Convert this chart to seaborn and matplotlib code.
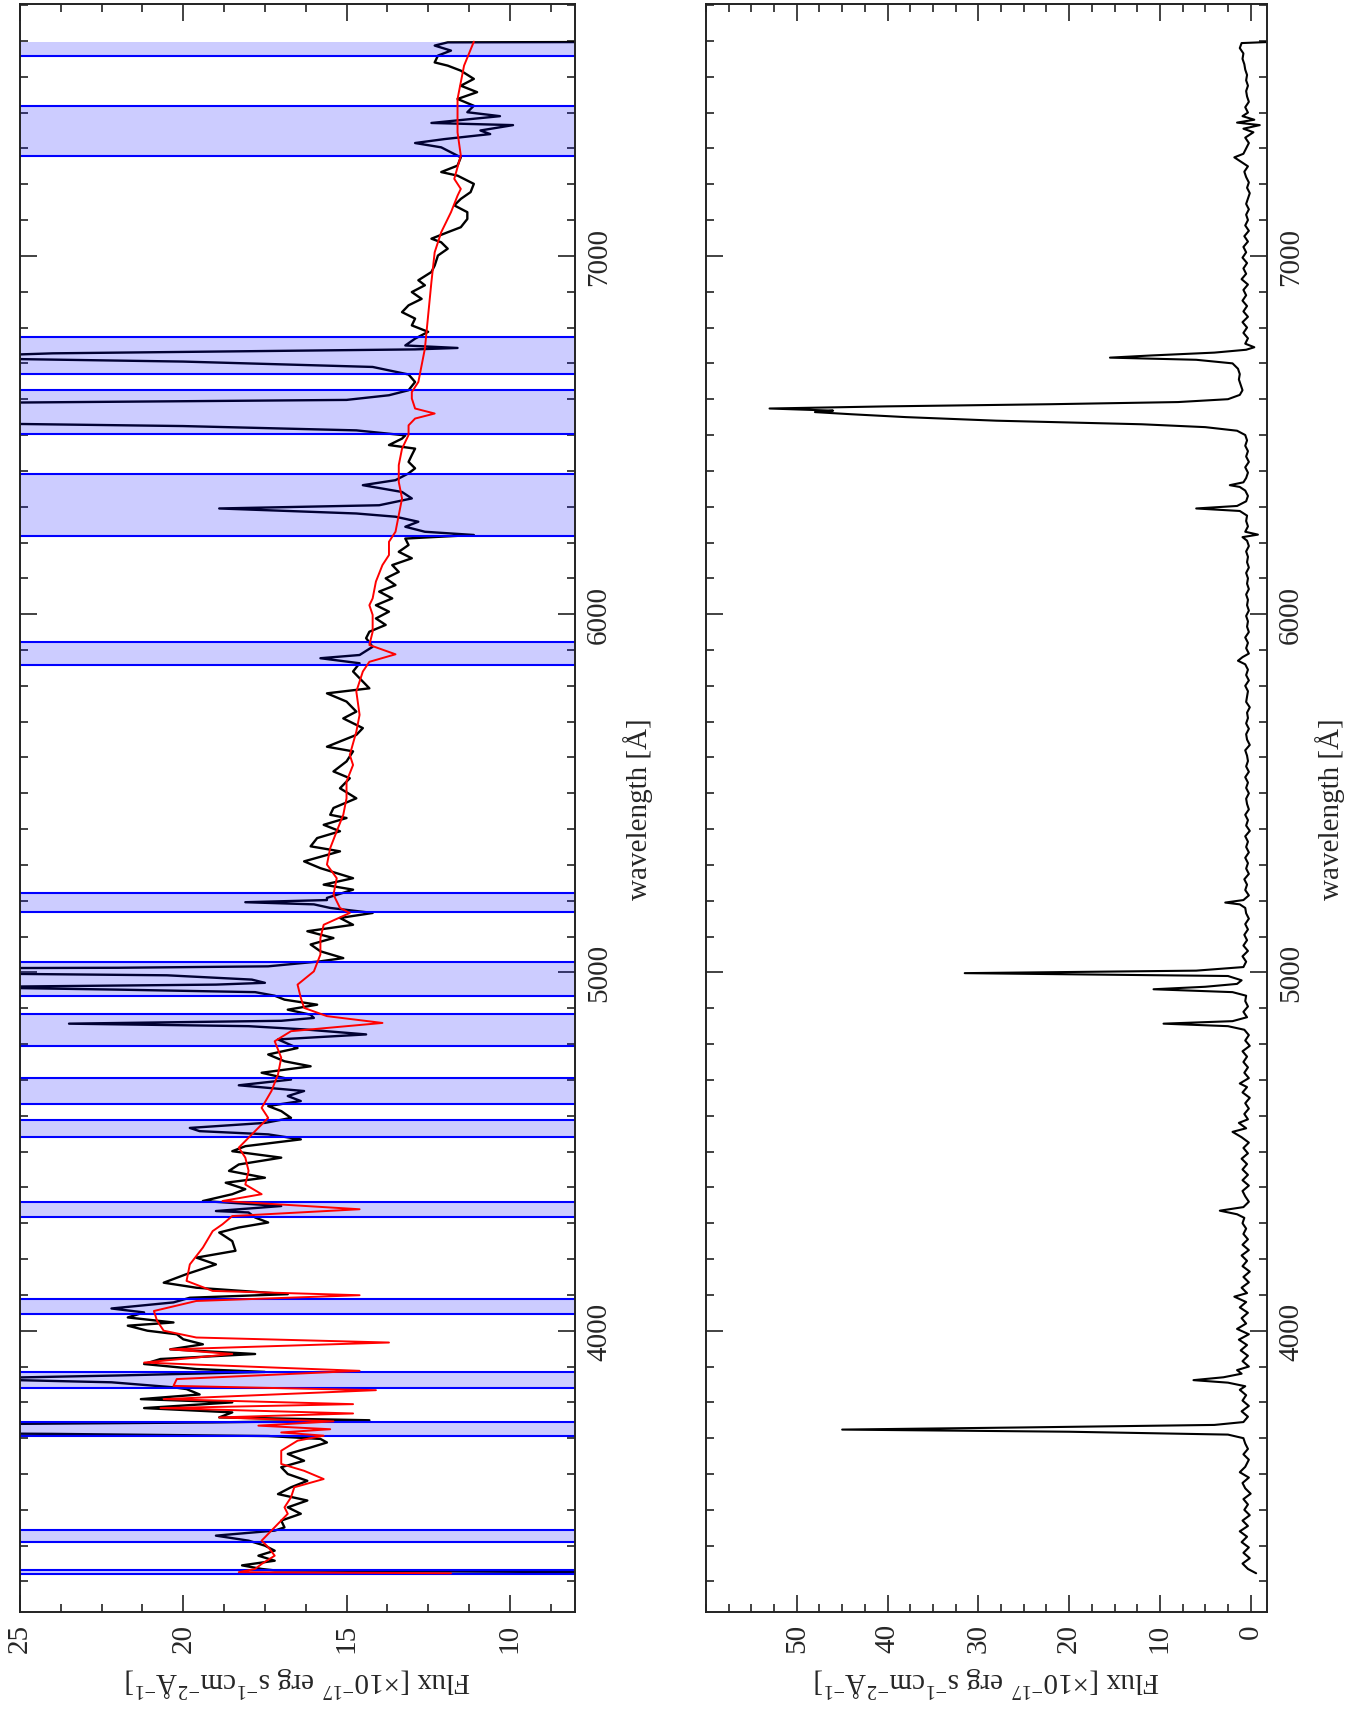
import pandas as pd
import matplotlib
matplotlib.use("Agg")
import matplotlib.pyplot as plt
import seaborn as sns
from matplotlib.ticker import MultipleLocator, FixedLocator

# observed spectrum (wavelength [A], flux)
obs_wl = [3323, 3331, 3335, 3345, 3358, 3372, 3386, 3400, 3414, 3428, 3442, 3451, 3470, 3489, 3507,
          3526, 3544, 3563, 3581, 3600, 3619, 3637, 3656, 3674, 3688, 3698, 3706, 3712, 3718, 3727,
          3735, 3740, 3744, 3750, 3758, 3772, 3784, 3800, 3809, 3822, 3837, 3842, 3856, 3866, 3875,
          3885, 3893, 3907, 3921, 3935, 3948, 3962, 3976, 3990, 4000, 4014, 4023, 4037, 4051, 4062,
          4079, 4092, 4102, 4120, 4134, 4158, 4185, 4204, 4223, 4250, 4274, 4288, 4302, 4316, 4330,
          4334, 4348, 4362, 4381, 4395, 4413, 4427, 4446, 4464, 4483, 4501, 4515, 4534, 4548, 4557,
          4566, 4580, 4594, 4613, 4627, 4641, 4655, 4669, 4685, 4701, 4720, 4738, 4752, 4771, 4789,
          4813, 4827, 4841, 4850, 4857, 4865, 4873, 4882, 4896, 4910, 4924, 4935, 4945, 4952, 4959,
          4966, 4971, 4980, 4992, 5000, 5007, 5013, 5017, 5031, 5040, 5059, 5078, 5096, 5115, 5133,
          5152, 5166, 5180, 5190, 5196, 5202, 5208, 5231, 5245, 5263, 5291, 5310, 5338, 5352, 5375,
          5394, 5412, 5431, 5440, 5459, 5486, 5514, 5542, 5561, 5589, 5617, 5630, 5663, 5682, 5709,
          5728, 5756, 5779, 5793, 5821, 5840, 5863, 5877, 5886, 5909, 5933, 5951, 5970, 5988, 6007,
          6025, 6044, 6063, 6081, 6100, 6118, 6137, 6156, 6174, 6193, 6211, 6221, 6230, 6244, 6258,
          6272, 6281, 6295, 6304, 6323, 6341, 6360, 6374, 6393, 6407, 6425, 6444, 6462, 6472, 6490,
          6499, 6513, 6525, 6532, 6545, 6555, 6565, 6575, 6582, 6590, 6598, 6611, 6625, 6648, 6669,
          6690, 6705, 6716, 6728, 6739, 6743, 6750, 6769, 6788, 6806, 6825, 6843, 6862, 6880, 6899,
          6918, 6932, 6955, 6973, 7001, 7020, 7038, 7048, 7066, 7080, 7103, 7122, 7141, 7159, 7178,
          7201, 7224, 7234, 7252, 7275, 7289, 7303, 7315, 7326, 7340, 7350, 7365, 7371, 7390, 7401,
          7419, 7438, 7457, 7475, 7494, 7517, 7531, 7540, 7559, 7573, 7587, 7596, 7598]
obs_flux = [2.0, 17.2, 17.6, 18.2, 17.2, 17.7, 17.2, 17.5, 18.0, 19.0, 17.2, 16.9, 17.0, 16.4, 16.8,
            16.2, 17.1, 16.7, 16.2, 16.8, 17.0, 16.3, 16.8, 16.1, 15.6, 15.8, 17.4, 24.0, 35.0, 60.0,
            42.0, 25.0, 19.1, 14.3, 18.9, 18.5, 21.2, 18.5, 21.3, 19.5, 19.9, 20.3, 22.2, 27.0, 22.0,
            17.5, 19.6, 21.2, 20.7, 17.8, 20.4, 19.4, 20.0, 20.2, 21.1, 21.7, 20.3, 21.7, 21.2, 22.2,
            20.3, 19.8, 16.8, 19.6, 20.6, 19.9, 19.0, 19.6, 18.4, 18.5, 18.9, 18.3, 17.4, 17.8, 18.0,
            19.0, 17.0, 19.4, 18.5, 18.1, 18.7, 17.5, 18.6, 18.3, 17.0, 18.5, 18.1, 16.4, 17.4, 19.5,
            19.8, 17.5, 16.7, 17.0, 17.4, 16.4, 16.8, 16.3, 18.3, 16.7, 17.6, 16.1, 16.9, 17.4, 16.5,
            17.1, 14.4, 16.3, 18.0, 23.5, 17.0, 16.0, 16.1, 16.8, 15.9, 16.9, 17.2, 17.8, 22.0, 27.0,
            19.0, 17.5, 17.9, 20.5, 30.0, 47.0, 22.0, 17.4, 15.8, 15.1, 15.8, 16.1, 15.4, 16.2, 14.8,
            15.2, 14.2, 15.5, 16.0, 18.1, 15.6, 15.6, 14.8, 15.7, 14.8, 15.8, 16.3, 15.2, 16.1, 15.9,
            15.2, 15.7, 15.0, 15.5, 15.4, 14.7, 15.2, 14.9, 15.4, 15.0, 14.8, 15.6, 14.7, 14.5, 15.1,
            14.7, 15.0, 15.6, 14.3, 14.6, 14.8, 14.6, 15.8, 14.6, 14.2, 14.4, 14.3, 13.8, 14.1, 13.7,
            14.1, 13.6, 14.0, 13.5, 13.8, 13.4, 13.6, 13.0, 13.4, 13.1, 13.2, 11.1, 12.6, 13.2, 12.8,
            13.5, 14.7, 18.9, 14.0, 13.0, 13.3, 14.5, 13.5, 13.1, 12.9, 13.1, 13.0, 12.9, 13.7, 13.3,
            13.2, 14.7, 20.0, 26.0, 45.0, 52.0, 62.0, 64.0, 45.0, 26.0, 15.0, 13.7, 13.1, 12.9, 13.1,
            14.2, 20.0, 28.0, 24.0, 12.9, 11.6, 13.2, 12.9, 12.5, 13.0, 12.9, 13.3, 13.1, 12.7, 13.0,
            12.6, 12.8, 12.4, 12.3, 12.2, 11.9, 12.1, 12.4, 11.9, 11.5, 11.3, 11.3, 11.7, 11.5, 11.2,
            11.1, 11.6, 12.1, 11.6, 11.5, 11.8, 12.1, 12.9, 12.0, 10.6, 10.9, 9.9, 12.4, 10.3, 11.3,
            11.1, 11.6, 11.0, 11.5, 11.1, 11.5, 11.9, 12.3, 12.2, 11.8, 12.3, 11.9, 2.0]

# stellar population model
mod_wl = [3323, 3326, 3335, 3349, 3372, 3396, 3414, 3442, 3470, 3489, 3507, 3535, 3563, 3586, 3609,
          3628, 3665, 3693, 3707, 3716, 3725, 3735, 3747, 3758, 3769, 3784, 3795, 3809, 3834, 3846,
          3865, 3888, 3911, 3935, 3948, 3967, 3981, 4000, 4027, 4055, 4083, 4099, 4111, 4139, 4185,
          4232, 4278, 4297, 4320, 4339, 4362, 4381, 4408, 4446, 4483, 4511, 4557, 4594, 4622, 4669,
          4715, 4762, 4808, 4836, 4859, 4878, 4901, 4929, 4966, 5003, 5050, 5096, 5133, 5166, 5180,
          5217, 5263, 5301, 5347, 5394, 5440, 5486, 5533, 5579, 5607, 5672, 5719, 5784, 5840, 5867,
          5888, 5914, 5951, 5998, 6025, 6044, 6091, 6137, 6165, 6202, 6230, 6276, 6323, 6369, 6416,
          6462, 6500, 6527, 6546, 6560, 6574, 6602, 6620, 6648, 6741, 6834, 6927, 7010, 7066, 7122,
          7168, 7187, 7215, 7280, 7345, 7438, 7531, 7598]
mod_flux = [11.8, 18.3, 17.8, 17.6, 17.2, 17.4, 17.6, 17.3, 17.0, 16.8, 16.9, 16.7, 16.6, 15.7, 16.3,
            17.0, 17.0, 16.5, 15.7, 17.0, 15.5, 17.7, 15.4, 18.9, 14.8, 20.7, 14.8, 20.6, 14.1, 20.3,
            20.2, 14.6, 21.2, 18.5, 20.4, 13.7, 19.6, 20.6, 20.8, 20.9, 19.6, 14.6, 19.1, 19.9, 19.8,
            19.4, 19.1, 18.8, 18.5, 14.6, 18.8, 17.6, 18.1, 18.0, 18.1, 18.3, 17.8, 17.4, 17.6, 17.3,
            17.1, 17.0, 17.2, 16.7, 13.9, 15.6, 16.3, 16.4, 16.5, 16.0, 15.8, 15.8, 15.7, 14.9, 15.2,
            15.4, 15.3, 15.6, 15.5, 15.3, 15.1, 15.0, 15.0, 14.8, 14.9, 14.7, 14.6, 14.7, 14.5, 14.3,
            13.5, 14.3, 14.2, 14.2, 14.3, 14.2, 14.1, 13.9, 13.7, 13.7, 13.5, 13.4, 13.3, 13.4, 13.4,
            13.3, 13.1, 13.1, 12.9, 12.3, 12.9, 13.0, 13.0, 12.8, 12.6, 12.5, 12.4, 12.3, 12.1, 11.8,
            11.6, 11.5, 11.7, 11.5, 11.6, 11.6, 11.4, 11.1]

# masked regions
band_lo = [3322, 3409, 3706, 3839, 4047, 4317, 4540, 4632, 4794, 4933, 5169, 5858, 6217, 6502, 6670, 7279, 7557]
band_hi = [3331, 3444, 3746, 3886, 4088, 4360, 4587, 4706, 4884, 5029, 5222, 5923, 6390, 6627, 6774, 7417, 7598]

# residual (pure emission) spectrum
res_wl = [3323, 3335, 3350, 3365, 3380, 3395, 3410, 3425, 3440, 3455, 3470, 3485, 3500, 3515, 3530,
          3545, 3560, 3575, 3590, 3605, 3620, 3640, 3655, 3670, 3685, 3700, 3710, 3718, 3724, 3730,
          3737, 3745, 3760, 3775, 3790, 3805, 3820, 3835, 3845, 3855, 3862, 3870, 3880, 3890, 3900,
          3915, 3930, 3945, 3960, 3975, 3990, 4005, 4020, 4035, 4050, 4065, 4080, 4095, 4105, 4120,
          4135, 4150, 4165, 4180, 4195, 4210, 4225, 4240, 4255, 4270, 4285, 4300, 4315, 4325, 4335,
          4345, 4360, 4375, 4390, 4405, 4420, 4435, 4450, 4465, 4480, 4495, 4510, 4525, 4540, 4555,
          4565, 4580, 4590, 4605, 4620, 4635, 4650, 4665, 4680, 4690, 4705, 4720, 4735, 4750, 4765,
          4780, 4795, 4810, 4825, 4840, 4850, 4857, 4864, 4875, 4890, 4905, 4920, 4935, 4945, 4953,
          4960, 4968, 4978, 4990, 4998, 5005, 5015, 5030, 5045, 5060, 5075, 5090, 5105, 5120, 5135,
          5150, 5165, 5180, 5190, 5195, 5202, 5215, 5230, 5245, 5260, 5275, 5290, 5305, 5320, 5335,
          5350, 5365, 5380, 5395, 5410, 5425, 5440, 5455, 5470, 5485, 5500, 5515, 5530, 5545, 5560,
          5575, 5590, 5605, 5620, 5635, 5650, 5665, 5680, 5695, 5710, 5725, 5740, 5755, 5770, 5785,
          5800, 5815, 5830, 5845, 5860, 5870, 5880, 5890, 5905, 5920, 5935, 5950, 5965, 5980, 5995,
          6010, 6025, 6040, 6055, 6070, 6085, 6100, 6115, 6130, 6145, 6160, 6175, 6190, 6205, 6215,
          6222, 6230, 6245, 6260, 6275, 6288, 6295, 6302, 6315, 6330, 6345, 6355, 6360, 6368, 6380,
          6395, 6410, 6425, 6440, 6455, 6470, 6485, 6500, 6512, 6522, 6530, 6540, 6550, 6558, 6564,
          6568, 6574, 6580, 6586, 6592, 6600, 6612, 6625, 6640, 6655, 6670, 6685, 6700, 6710, 6716,
          6722, 6730, 6738, 6745, 6755, 6770, 6785, 6800, 6815, 6830, 6845, 6860, 6875, 6890, 6905,
          6920, 6935, 6950, 6965, 6980, 6995, 7010, 7025, 7040, 7055, 7070, 7085, 7100, 7115, 7130,
          7145, 7160, 7175, 7190, 7205, 7220, 7235, 7250, 7265, 7275, 7285, 7300, 7315, 7330, 7345,
          7355, 7365, 7372, 7380, 7390, 7400, 7415, 7430, 7445, 7460, 7475, 7490, 7505, 7520, 7535,
          7550, 7565, 7580, 7594, 7598]
res_flux = [-0.6, 0.3, 0.9, 0.1, 0.8, 0.2, 1.0, 0.4, 1.2, 0.3, 0.9, 0.1, 0.7, 0.3, 0.8,
            0.0, 0.6, 0.9, 0.2, 1.2, 0.6, 0.2, 0.8, 0.3, 0.6, 0.8, 2.5, 20.0, 45.0, 25.0,
            4.0, 0.8, 0.3, 1.0, 0.2, 0.9, 0.5, 1.2, 0.6, 2.5, 6.3, 3.0, 1.0, 1.5, 0.2,
            0.9, 0.3, 1.1, 0.4, 1.3, 0.2, 1.5, 0.5, 1.0, 0.3, 1.2, 0.5, 1.8, 0.4, 1.0,
            0.2, 0.8, 0.1, 0.9, 0.4, 1.0, 0.2, 0.9, 0.3, 0.8, 0.5, 0.9, 0.7, 1.5, 3.4,
            0.8, 0.2, 0.6, 0.9, 0.2, 0.9, 0.3, 0.9, 0.4, 1.0, 0.3, 0.8, 0.2, 1.0, 2.0,
            0.5, 1.3, 0.3, 0.7, 0.2, 0.6, 0.1, 0.9, 0.4, 1.2, 0.2, 0.7, 0.3, 0.8, 0.4,
            0.9, 0.1, 0.6, 0.2, 0.7, 2.5, 9.6, 2.0, 0.4, 0.8, 0.3, 0.6, 0.5, 2.0, 10.7,
            5.0, 1.5, 1.0, 2.5, 31.5, 6.0, 0.8, 0.5, 0.9, 0.3, 0.8, 0.4, 0.7, 0.3, 0.6,
            0.2, 0.5, 0.6, 1.2, 2.8, 0.8, 0.2, 0.6, 0.4, 0.7, 0.2, 0.5, 0.3, 0.6, 0.2,
            0.5, 0.3, 0.6, 0.1, 0.5, 0.3, 0.6, 0.2, 0.4, 0.5, 0.2, 0.5, 0.3, 0.6, 0.2,
            0.5, 0.3, 0.4, 0.6, 0.1, 0.4, 0.5, 0.2, 0.5, 0.3, 0.4, 0.1, 0.5, 0.4, 0.3,
            0.6, 0.2, 0.5, 0.3, 0.6, 1.4, 0.9, 0.2, 0.5, 0.3, 0.6, 0.2, 0.4, 0.3, 0.5,
            0.2, 0.4, 0.3, 0.5, 0.2, 0.4, 0.3, 0.5, 0.2, 0.4, 0.3, 0.5, 0.2, 0.4, 0.9,
            -0.8, 0.6, 0.3, 0.5, 0.4, 1.2, 6.0, 1.5, 0.5, 0.3, 0.6, 1.2, 2.3, 0.8, 0.5,
            0.3, 0.6, 0.2, 0.5, 0.3, 0.6, 0.4, 0.6, 1.5, 5.0, 12.0, 28.0, 38.0, 44.0, 48.0,
            46.0, 53.0, 40.0, 22.0, 8.0, 2.5, 1.2, 0.9, 1.1, 1.3, 1.2, 1.4, 2.0, 6.0, 15.5,
            11.0, 4.0, 0.5, -0.4, 0.6, 0.3, 0.8, 0.4, 0.9, 0.3, 0.8, 0.4, 0.9, 0.5, 0.8,
            0.3, 1.0, 0.5, 0.8, 0.4, 0.9, 0.5, 0.8, 0.3, 0.7, 0.2, 0.6, 0.3, 0.5, 0.2,
            0.5, 0.3, 0.1, 0.4, 0.2, 0.5, 0.7, 0.3, 1.2, 1.8, 0.8, 0.5, 0.2, 0.6, -0.3,
            0.8, -1.0, 1.5, -0.4, 0.9, 0.3, 0.6, 0.2, 0.4, 0.5, 0.3, 0.5, 0.4, 0.6, 0.7,
            0.9, 0.8, 1.2, 1.0, -3.0]

wl_ticks = [4000, 5000, 6000, 7000]
flux_label = "Flux [×10$^{-17}$ erg s$^{-1}$cm$^{-2}$Å$^{-1}$]"

obs = pd.DataFrame({"wl": obs_wl, "flux": obs_flux})
mod = pd.DataFrame({"wl": mod_wl, "flux": mod_flux})
res = pd.DataFrame({"wl": res_wl, "flux": res_flux})

sns.set_style("ticks")
plt.rcParams["font.family"] = ["Liberation Serif", "DejaVu Serif"]
plt.rcParams["mathtext.fontset"] = "custom"
plt.rcParams["mathtext.rm"] = "Liberation Serif"
plt.rcParams["axes.linewidth"] = 1.4
plt.rcParams["axes.edgecolor"] = "#222222"

fig = plt.figure(figsize=(13.64, 17.31), dpi=100)
ax1 = fig.add_axes([0.0147, 0.0682, 0.4069, 0.9289])
ax2 = fig.add_axes([0.5176, 0.0682, 0.4113, 0.9289])

# top panel (shown on the left): observed + model + masks
sns.lineplot(data=obs, x="flux", y="wl", orient="y", sort=False, estimator=None,
             color="black", lw=1.7, zorder=1, ax=ax1)
for lo, hi in zip(band_lo, band_hi):
    ax1.axhspan(lo, hi, color="blue", alpha=0.2, lw=0, zorder=2)
    for edge in (lo, hi):
        if edge < max(obs_wl):
            ax1.axhline(edge, color="blue", lw=1.5, zorder=2.5)
sns.lineplot(data=mod, x="flux", y="wl", orient="y", sort=False, estimator=None,
             color="red", lw=1.4, zorder=3, ax=ax1)
ax1.set_xlim(25, 8)
ax1.xaxis.set_major_locator(FixedLocator([10, 15, 20, 25]))
ax1.xaxis.set_minor_locator(MultipleLocator(1.25))

# bottom panel (shown on the right): emission-line residual
sns.lineplot(data=res, x="flux", y="wl", orient="y", sort=False, estimator=None,
             color="black", lw=1.5, ax=ax2)
ax2.set_xlim(60, -1.8)
ax2.xaxis.set_major_locator(FixedLocator([0, 10, 20, 30, 40, 50]))
ax2.xaxis.set_minor_locator(MultipleLocator(2.5))

for ax in (ax1, ax2):
    ax.set_ylim(3215, 7703)
    ax.yaxis.set_major_locator(FixedLocator(wl_ticks))
    ax.yaxis.set_minor_locator(MultipleLocator(100))
    ax.tick_params(which="both", direction="in", top=True, bottom=True, left=True, right=True,
                   labelleft=False, labelright=True, labeltop=False, labelbottom=True,
                   width=1.2, color="#222222")
    ax.tick_params(which="major", length=12)
    ax.tick_params(which="minor", length=6)
    ax.tick_params(axis="x", labelrotation=90, labelsize=21, pad=8)
    ax.tick_params(axis="y", labelrotation=90, labelsize=21, pad=8)
    for lbl in ax.get_yticklabels():
        lbl.set_verticalalignment("center")
    ax.yaxis.set_label_position("right")
    ax.set_ylabel("wavelength [Å]", fontsize=21, labelpad=8)
    ax.set_xlabel(flux_label, fontsize=21, rotation=180, labelpad=8)

fig.savefig("out.png", dpi=100)
